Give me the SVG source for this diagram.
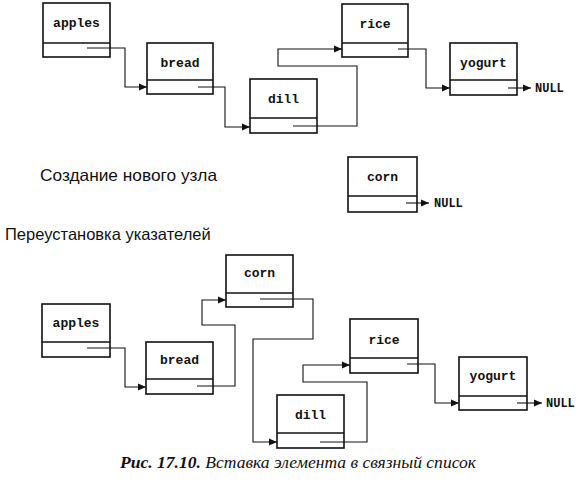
<svg xmlns="http://www.w3.org/2000/svg" width="582" height="483" viewBox="0 0 582 483">
<defs>
<style>
.box{fill:#fff;stroke:#111;stroke-width:1.6}
.div{stroke:#111;stroke-width:1.3}
.lbl{font-family:"Liberation Mono",monospace;font-weight:bold;font-size:13px;fill:#111;text-anchor:middle}
.null{font-family:"Liberation Mono",monospace;font-weight:bold;font-size:12px;fill:#111}
.con{fill:none;stroke:#111;stroke-width:1.1}
.cap{font-family:"Liberation Sans",Arial,sans-serif;font-size:16.5px;fill:#111}
.fig{font-family:"Liberation Serif","Times New Roman",serif;font-style:italic;font-size:16.5px;fill:#111}
</style>
<marker id="ah" markerUnits="userSpaceOnUse" markerWidth="9" markerHeight="8" refX="8" refY="4" orient="auto">
<path d="M0,0.5 L8,4 L0,7.5 z" fill="#111"/>
</marker>
</defs>
<rect width="582" height="483" fill="#fff"/>

<!-- top list -->
<g id="t-apples"><rect class="box" x="43" y="3" width="67" height="54"/><line class="div" x1="43" y1="43" x2="110" y2="43"/><text class="lbl" x="76.5" y="27">apples</text></g>
<g id="t-bread"><rect class="box" x="147" y="43" width="66" height="51"/><line class="div" x1="147" y1="80" x2="213" y2="80"/><text class="lbl" x="180" y="67">bread</text></g>
<g id="t-dill"><rect class="box" x="250" y="79" width="67" height="54"/><line class="div" x1="250" y1="118" x2="317" y2="118"/><text class="lbl" x="283.5" y="103">dill</text></g>
<g id="t-rice"><rect class="box" x="342" y="4" width="66" height="53"/><line class="div" x1="342" y1="43" x2="408" y2="43"/><text class="lbl" x="375" y="28">rice</text></g>
<g id="t-yogurt"><rect class="box" x="450" y="43" width="67" height="52"/><line class="div" x1="450" y1="80" x2="517" y2="80"/><text class="lbl" x="483.5" y="67">yogurt</text></g>

<!-- middle -->
<text class="cap" x="40" y="181" textLength="177" lengthAdjust="spacingAndGlyphs">Создание нового узла</text>
<g id="m-corn"><rect class="box" x="348" y="157" width="69" height="55"/><line class="div" x1="348" y1="196" x2="417" y2="196"/><text class="lbl" x="382.5" y="181">corn</text></g>
<text class="cap" x="5" y="240">Переустановка указателей</text>

<!-- bottom list -->
<g id="b-corn"><rect class="box" x="226" y="255" width="67" height="52"/><line class="div" x1="226" y1="293" x2="293" y2="293"/><text class="lbl" x="259.5" y="277">corn</text></g>
<g id="b-apples"><rect class="box" x="42" y="304" width="68" height="53"/><line class="div" x1="42" y1="342" x2="110" y2="342"/><text class="lbl" x="76" y="327">apples</text></g>
<g id="b-bread"><rect class="box" x="146" y="342" width="67" height="52"/><line class="div" x1="146" y1="379" x2="213" y2="379"/><text class="lbl" x="179.5" y="364">bread</text></g>
<g id="b-dill"><rect class="box" x="277" y="395" width="67" height="53"/><line class="div" x1="277" y1="433" x2="344" y2="433"/><text class="lbl" x="310.5" y="419">dill</text></g>
<g id="b-rice"><rect class="box" x="350" y="319" width="68" height="54"/><line class="div" x1="350" y1="358" x2="418" y2="358"/><text class="lbl" x="384" y="344">rice</text></g>
<g id="b-yogurt"><rect class="box" x="459" y="357" width="68" height="53"/><line class="div" x1="459" y1="396" x2="527" y2="396"/><text class="lbl" x="493" y="380">yogurt</text></g>

<g id="connectors">
<path class="con" marker-end="url(#ah)" d="M87,48 H125 V87 H147"/>
<path class="con" marker-end="url(#ah)" d="M198,87 H225 V127 H250"/>
<path class="con" marker-end="url(#ah)" d="M293,126 H357 V66 H278 V49 H342"/>
<path class="con" marker-end="url(#ah)" d="M398,49 H426 V88 H450"/>
<path class="con" marker-end="url(#ah)" d="M508,88 H531"/>
<path class="con" marker-end="url(#ah)" d="M406,203 H429"/>
<path class="con" marker-end="url(#ah)" d="M87,348 H125 V387 H146"/>
<path class="con" marker-end="url(#ah)" d="M197,386 H235 V325 H202 V300 H226"/>
<path class="con" marker-end="url(#ah)" d="M260,299 H313 V339 H253 V442 H277"/>
<path class="con" marker-end="url(#ah)" d="M320,442 H367 V382 H303 V365 H350"/>
<path class="con" marker-end="url(#ah)" d="M407,364 H435 V403 H459"/>
<path class="con" marker-end="url(#ah)" d="M517,403 H542"/>
</g>
<text class="null" x="535" y="92">NULL</text>
<text class="null" x="434" y="207">NULL</text>
<text class="null" x="546" y="407">NULL</text>

<text class="fig" x="120" y="468" textLength="356" lengthAdjust="spacingAndGlyphs"><tspan font-weight="bold">Рис. 17.10.</tspan> Вставка элемента в связный список</text>
</svg>
